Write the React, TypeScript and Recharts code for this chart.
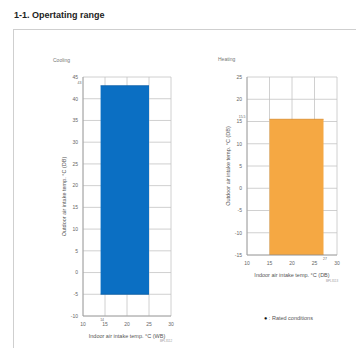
import React from 'react'
import {
  ComposedChart,
  Area,
  XAxis,
  YAxis,
  CartesianGrid,
  Label,
} from 'recharts'

// operating envelopes
const coolingIndoorWB = [14, 25]
const coolingOutdoorDB = [-5, 43]
const heatingIndoorDB = [15, 27]
const heatingOutdoorDB = [-15, 15.5]

const coolingXTicks = [10, 15, 20, 25, 30]
const coolingYTicks = [-10, -5, 0, 5, 10, 15, 20, 25, 30, 35, 40, 45]
const coolingXExtra = [14]
const coolingYExtra = [43]

const heatingXTicks = [10, 15, 20, 25, 30]
const heatingYTicks = [-15, -10, -5, 0, 5, 10, 15, 20, 25]
const heatingXExtra = [27]
const heatingYExtra = [15.5]

const FONT = '"Liberation Sans", Arial, sans-serif'
const TXT = '#666'

const xTick = (extras: number[]) => (props: any) => {
  const { x, y, payload } = props
  const extra = extras.includes(payload.value)
  return (
    <text
      x={x + (extra ? 1.5 : 0)}
      y={extra ? y + 4.5 : y + 10}
      textAnchor="middle"
      fontSize={extra ? 3.5 : 5}
      fontFamily={FONT}
      fill={TXT}
    >
      {payload.value}
    </text>
  )
}

const yTick = (extras: number[]) => (props: any) => {
  const { x, y, payload } = props
  const extra = extras.includes(payload.value)
  return (
    <text
      x={extra ? x - 1.5 : x - 5}
      y={extra ? y - 1.5 : y + 1.8}
      textAnchor="end"
      fontSize={extra ? 3.5 : 5}
      fontFamily={FONT}
      fill={TXT}
    >
      {payload.value}
    </text>
  )
}

interface RangeChartProps {
  left: number
  top: number
  width: number
  height: number
  margin: { top: number; right: number; bottom: number; left: number }
  xVals: number[]
  yVals: number[]
  xTicks: number[]
  yTicks: number[]
  xExtra: number[]
  yExtra: number[]
  xLabel: string
  color: string
  edge: string
  yLabelDx: number
}

function RangeChart(p: RangeChartProps) {
  const data = p.xVals.map((t) => ({ t, range: p.yVals }))
  const yDomain = [p.yTicks[0], p.yTicks[p.yTicks.length - 1]]
  return (
    <div style={{ position: 'absolute', left: p.left, top: p.top }}>
      <ComposedChart width={p.width} height={p.height} data={data} margin={p.margin}>
        <CartesianGrid
          stroke="#c4c4c4"
          strokeWidth={0.8}
          horizontalValues={p.yTicks}
          verticalValues={p.xTicks}
        />
        <XAxis
          dataKey="t"
          type="number"
          domain={[p.xTicks[0], p.xTicks[p.xTicks.length - 1]]}
          ticks={[...p.xTicks, ...p.xExtra]}
          interval={0}
          allowDataOverflow
          axisLine={{ stroke: '#999', strokeWidth: 0.8 }}
          tickLine={false}
          tickSize={0}
          tickMargin={0}
          height={22}
          tick={xTick(p.xExtra)}
        >
          <Label
            value={p.xLabel}
            position="insideBottom"
            offset={0}
            fontSize={5.5}
            fontFamily={FONT}
            fill="#555"
          />
        </XAxis>
        <YAxis
          type="number"
          domain={yDomain}
          ticks={[...p.yTicks, ...p.yExtra]}
          interval={0}
          allowDataOverflow
          axisLine={{ stroke: '#999', strokeWidth: 0.8 }}
          tickLine={false}
          tickSize={0}
          tickMargin={0}
          width={30}
          tick={yTick(p.yExtra)}
        >
          <Label
            value="Outdoor air intake temp. °C (DB)"
            position="center"
            angle={-90}
            dx={p.yLabelDx}
            fontSize={5.5}
            fontFamily={FONT}
            fill="#555"
          />
        </YAxis>
        <Area
          dataKey="range"
          type="linear"
          fill={p.color}
          fillOpacity={1}
          stroke={p.edge}
          strokeWidth={0.8}
          isAnimationActive={false}
          dot={false}
          activeDot={false}
        />
      </ComposedChart>
    </div>
  )
}

export default function App() {
  return (
    <div
      style={{
        position: 'relative',
        width: 364,
        height: 356,
        margin: -8,
        background: '#fff',
        fontFamily: FONT,
        overflow: 'hidden',
      }}
    >
      <div
        style={{
          position: 'absolute',
          left: 14,
          top: 10,
          fontSize: 9,
          fontWeight: 'bold',
          color: '#222',
        }}
      >
        1-1. Opertating range
      </div>
      <div
        style={{
          position: 'absolute',
          left: 13,
          top: 29,
          width: 343,
          height: 340,
          borderTop: '1px solid #cfcfcf',
          borderLeft: '1px solid #cfcfcf',
          borderRight: '1px solid #ececec',
        }}
      />
      <div style={{ position: 'absolute', left: 53, top: 57, fontSize: 5, color: '#777' }}>Cooling</div>
      <div style={{ position: 'absolute', left: 218, top: 56, fontSize: 5, color: '#777' }}>Heating</div>

      <RangeChart
        left={40}
        top={60}
        width={150}
        height={280}
        margin={{ top: 17, right: 19, bottom: 2, left: 13 }}
        xVals={coolingIndoorWB}
        yVals={coolingOutdoorDB}
        xTicks={coolingXTicks}
        yTicks={coolingYTicks}
        xExtra={coolingXExtra}
        yExtra={coolingYExtra}
        xLabel="Indoor air intake temp. °C (WB)"
        color="#0b6fc3"
        edge="#0a5ea6"
        yLabelDx={-4}
      />
      <RangeChart
        left={200}
        top={60}
        width={154}
        height={220}
        margin={{ top: 17, right: 17, bottom: 3, left: 17 }}
        xVals={heatingIndoorDB}
        yVals={heatingOutdoorDB}
        xTicks={heatingXTicks}
        yTicks={heatingYTicks}
        xExtra={heatingXExtra}
        yExtra={heatingYExtra}
        xLabel="Indoor air intake temp. °C (DB)"
        color="#f5a843"
        edge="#d98a2a"
        yLabelDx={-4}
      />

      <div style={{ position: 'absolute', left: 160, top: 339, fontSize: 3, color: '#999' }}>BPL3112</div>
      <div style={{ position: 'absolute', left: 326, top: 279, fontSize: 3, color: '#999' }}>BPL3113</div>
      <div style={{ position: 'absolute', left: 264, top: 315, fontSize: 5.5, color: '#555' }}>
        <span style={{ color: '#111' }}>●</span> : Rated conditions
      </div>
    </div>
  )
}
